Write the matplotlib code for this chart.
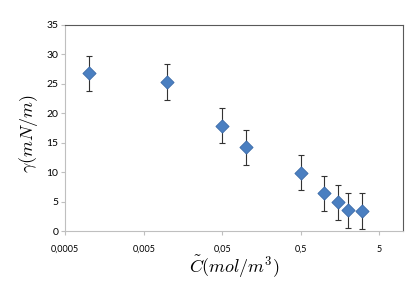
import numpy as np
import matplotlib
matplotlib.use("Agg")
import matplotlib.pyplot as plt

# concentration (mol/m3) vs surface tension (mN/m)
conc = [0.001, 0.01, 0.05, 0.1, 0.5, 1.0, 1.5, 2.0, 3.0]
gamma = [26.8, 25.3, 17.9, 14.2, 9.9, 6.4, 4.9, 3.5, 3.4]
err = [3, 3, 3, 3, 3, 3, 3, 3, 3]

xticks = [0.0005, 0.005, 0.05, 0.5, 5]
xtick_labels = ["0,0005", "0,005", "0,05", "0,5", "5"]
yticks = [0, 5, 10, 15, 20, 25, 30, 35]

plt.rcParams['mathtext.fontset'] = 'cm'
plt.rcParams['font.family'] = ['Lato', 'DejaVu Sans']

fig = plt.figure(figsize=(4.15, 2.86), dpi=100)
ax = fig.add_axes([0.157, 0.192, 0.814, 0.721])

ax.errorbar(conc, gamma, yerr=err, fmt='none', ecolor='#333333', elinewidth=0.8,
            capsize=2, capthick=0.8, zorder=2)
ax.scatter(conc, gamma, marker='D', s=45, color='#4a7fc1', edgecolor='#3a6aa8',
           linewidth=0.6, zorder=3)

ax.set_xscale('log')
ax.set_xlim(0.0005, 10)
ax.set_ylim(0, 35)
ax.set_xticks(xticks)
ax.set_xticklabels(xtick_labels, fontsize=6.5)
ax.minorticks_off()
ax.set_yticks(yticks)
ax.tick_params(axis='y', labelsize=7.5, length=3, color='#bfbfbf', pad=2)
ax.tick_params(axis='x', length=3, color='#bfbfbf', pad=7)

for s in ['left', 'bottom']:
    ax.spines[s].set_color('#bfbfbf')
for s in ['top', 'right']:
    ax.spines[s].set_color('#595959')

ax.set_ylabel(r'$\gamma(mN/m)$', fontsize=13)
ax.yaxis.set_label_coords(-0.074, 0.473)
ax.set_xlabel(r'$\tilde{C}(mol/m^3)$', fontsize=13, labelpad=0)

fig.savefig('out.png', dpi=100)
